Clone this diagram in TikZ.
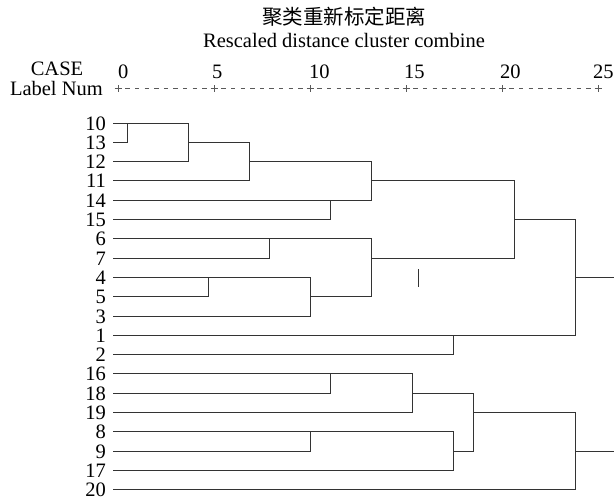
\documentclass[tikz,border=0pt]{standalone}
\usepackage{fontspec}
\setmainfont{Liberation Serif}
\newfontfamily\cjk{Noto Sans CJK SC}
\usetikzlibrary{positioning}

\tikzstyle{caption} = [inner sep=0pt, font=\fontsize{20.5}{22}\selectfont]
\tikzstyle{leaf} = [caption, anchor=east]
\tikzstyle{link} = [draw, color=black!80, line width=1.8pt]
\tikzstyle{ruler} = [draw, color=black!65, line width=0.9pt]

\begin{document}
\begin{tikzpicture}[x=1pt, y=-1pt]
\useasboundingbox (0,0) rectangle (614,499);

%Titles
\node (TitleCN) [caption] at (344,17) {\cjk 聚类重新标定距离};
\node (TitleEN) [caption, anchor=base] at (344,47) {Rescaled distance cluster combine};
\node (Case) [caption, anchor=base] at (57,75.5) {CASE};
\node (LabelNum) [caption, anchor=base east] at (103,95) {Label Num};

%Ruler
\foreach \k/\v/\d in {0/0/0,1/5/2,2/10/1,3/15/2,4/20/2,5/25/5}{
  \node (Tick\v) [caption, anchor=base west] at ({118+96*\k-\d},78) {\v};
  \path [ruler] ({118+96*\k-3.5},88.5) -- ({118+96*\k+3.5},88.5)
                ({118.5+96*\k},85) -- ({118.5+96*\k},92);
}
\foreach \k in {0,...,4}
  \foreach \j in {1,...,9}
    \path [ruler] ({118+96*\k+9.6*\j-2.2},88.5) -- ++(4.4,0);

%Leaves
\foreach \n [count=\i from 0] in {10,13,12,11,14,15,6,7,4,5,3,1,2,16,18,19,8,9,17,20}{
  \node (L\n) [leaf] at (106,{int(123+19.3*\i)+0.5}) {\n};
  \coordinate (R\n) at (113,{int(123+19.3*\i)+0.5});
}

%Join columns
\coordinate (Ca) at (127.5,0);
\coordinate (Cb) at (188.5,0);
\coordinate (Cc) at (249.5,0);
\coordinate (Cd) at (330.5,0);
\coordinate (Ce) at (269.5,0);
\coordinate (Cf) at (208.5,0);
\coordinate (Cg) at (310.5,0);
\coordinate (Ch) at (371.5,0);
\coordinate (Cl) at (412.5,0);
\coordinate (Cj) at (453.5,0);
\coordinate (Cm) at (473.5,0);
\coordinate (Ci) at (514.5,0);
\coordinate (Ck) at (575.5,0);
\coordinate (Cend) at (614,0);

%Upper group
\path [link] (R13) -| (Ca |- R10);
\path [link] (R10) -| (Cb |- R12) -- (R12);
\path [link] (Cb |- R13) -| (Cc |- R11) -- (R11);
\path [link] (Cc |- R12) -| (Ch |- R14) -- (R14);
\path [link] (R15) -| (Cd |- R14);
\path [link] (R7) -| (Ce |- R6);
\path [link] (R5) -| (Cf |- R4);
\path [link] (R4) -| (Cg |- R3) -- (R3);
\path [link] (R6) -| (Ch |- R5) -- (Cg |- R5);
\path [link] (Ch |- R11) -| (Ci |- R7) -- (Ch |- R7);
\path [link] (R2) -| (Cj |- R1);
\path [link] (Ci |- R15) -| (Ck |- R1) -- (R1);
\path [link] (Ck |- R4) -- (Cend |- R4);
\path [link] (418.5,269) -- (418.5,287);

%Lower group
\path [link] (R18) -| (Cd |- R16);
\path [link] (R16) -| (Cl |- R19) -- (R19);
\path [link] (R9) -| (Cg |- R8);
\path [link] (R8) -| (Cj |- R17) -- (R17);
\path [link] (Cl |- R18) -| (Cm |- R9) -- (Cj |- R9);
\path [link] (Cm |- R19) -| (Ck |- R20) -- (R20);
\path [link] (Ck |- R9) -- (Cend |- R9);

\end{tikzpicture}
\end{document}
